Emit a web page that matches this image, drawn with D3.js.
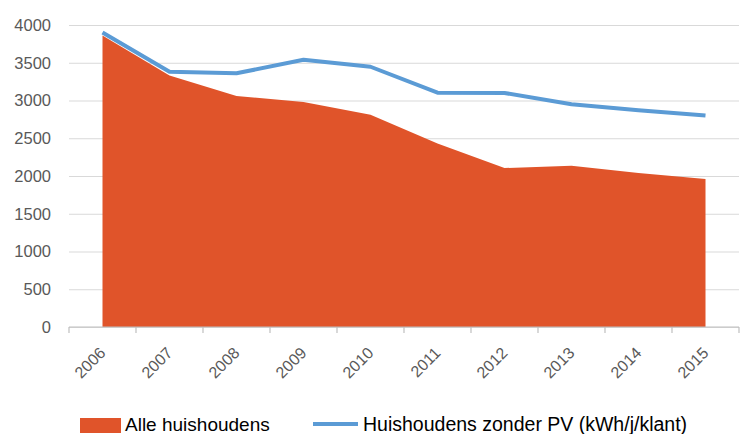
<!DOCTYPE html>
<html>
<head>
<meta charset="utf-8">
<script src="https://cdn.jsdelivr.net/npm/d3@7"></script>
<style>
    body { margin: 0; background: #fff; overflow: hidden; }
    svg { display: block; }
    text { font-family: "Liberation Sans", Arial, sans-serif; }
</style>
</head>
<body>
<script>
// data
var years = ["2006", "2007", "2008", "2009", "2010", "2011", "2012", "2013", "2014", "2015"];
var alle = [3860, 3330, 3060, 2980, 2810, 2430, 2106, 2136, 2040, 1960];
var zonderPV = [3900, 3380, 3360, 3540, 3447, 3103, 3100, 2950, 2870, 2800];
var yTicks = [0, 500, 1000, 1500, 2000, 2500, 3000, 3500, 4000];

// plot box
var width = 744, height = 434;
var plotLeft = 69, plotRight = 739, plotTop = 25, plotBottom = 327;

var svg = d3.select("body").append("svg")
    .attr("width", width)
    .attr("height", height);

var x = d3.scaleBand()
    .domain(years)
    .range([plotLeft, plotRight]);

var y = d3.scaleLinear()
    .domain([0, 4000])
    .range([plotBottom, plotTop]);

function cx(d) { return x(d) + x.bandwidth() / 2; }

// gridlines
svg.append("g")
    .attr("transform", "translate(" + plotLeft + ",0)")
    .call(d3.axisLeft(y).tickValues(yTicks).tickSize(-(plotRight - plotLeft)).tickFormat(""))
    .call(function (g) {
        g.select(".domain").remove();
        g.selectAll("line").attr("stroke", "#d9d9d9").attr("stroke-width", 1.2);
    });

// y labels
svg.append("g")
    .attr("transform", "translate(" + plotLeft + ",0)")
    .call(d3.axisLeft(y).tickValues(yTicks).tickSize(0).tickPadding(18).tickFormat(d3.format("d")))
    .call(function (g) {
        g.select(".domain").remove();
        g.selectAll("text")
            .attr("fill", "#595959")
            .attr("font-family", null)
            .attr("font-size", null)
            .style("font-size", "16.5px");
    });

// area
var area = d3.area()
    .x(function (d, i) { return cx(years[i]); })
    .y0(y(0))
    .y1(function (d) { return y(d); });

svg.append("path")
    .datum(alle)
    .attr("fill", "#e0542a")
    .attr("d", area);

// x axis line
svg.append("line")
    .attr("x1", plotLeft).attr("x2", plotRight)
    .attr("y1", plotBottom).attr("y2", plotBottom)
    .attr("stroke", "#bfbfbf")
    .attr("stroke-width", 1.2);

// tick marks at category edges
svg.append("g")
    .selectAll("line")
    .data(years.concat(["end"]))
    .enter().append("line")
    .attr("x1", function (d, i) { return plotLeft + i * x.bandwidth(); })
    .attr("x2", function (d, i) { return plotLeft + i * x.bandwidth(); })
    .attr("y1", plotBottom)
    .attr("y2", plotBottom + 6)
    .attr("stroke", "#bfbfbf")
    .attr("stroke-width", 1.2);

// x labels
svg.append("g")
    .selectAll("text")
    .data(years)
    .enter().append("text")
    .attr("transform", function (d) {
        return "translate(" + (cx(d) + 4) + "," + (plotBottom + 27) + ") rotate(-45)";
    })
    .attr("text-anchor", "end")
    .attr("fill", "#595959")
    .style("font-size", "16px")
    .text(function (d) { return d; });

// line
var line = d3.line()
    .x(function (d, i) { return cx(years[i]); })
    .y(function (d) { return y(d); });

svg.append("path")
    .datum(zonderPV)
    .attr("fill", "none")
    .attr("stroke", "#5b9bd5")
    .attr("stroke-width", 4)
    .attr("stroke-linejoin", "round")
    .attr("d", line);

// legend
var legend = svg.append("g");
legend.append("rect")
    .attr("x", 80).attr("y", 418)
    .attr("width", 41).attr("height", 15)
    .attr("fill", "#e0542a");
legend.append("text")
    .attr("x", 125).attr("y", 431)
    .style("font-size", "19px")
    .attr("fill", "#000")
    .text("Alle huishoudens");
legend.append("line")
    .attr("x1", 313).attr("x2", 358)
    .attr("y1", 424).attr("y2", 424)
    .attr("stroke", "#5b9bd5")
    .attr("stroke-width", 4);
legend.append("text")
    .attr("x", 363).attr("y", 431)
    .style("font-size", "19.5px")
    .attr("fill", "#000")
    .text("Huishoudens zonder PV (kWh/j/klant)");
</script>
</body>
</html>
